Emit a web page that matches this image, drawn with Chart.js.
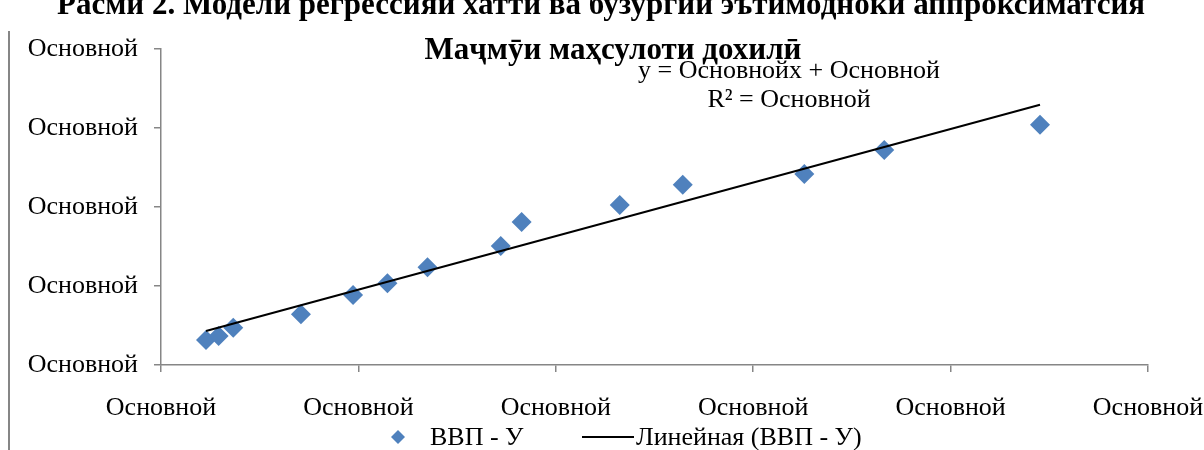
<!DOCTYPE html>
<html><head><meta charset="utf-8">
<script src="https://cdn.jsdelivr.net/npm/chart.js@4.4.1/dist/chart.umd.min.js"></script>
<style>html,body{margin:0;padding:0;background:#fff}#wrap{width:1204px;height:450px;position:relative}canvas{display:block}</style>
</head><body><div id="wrap"><canvas id="c" width="1204" height="450"></canvas></div>
<script>
const captionText = "Расми 2. Модели регрессияи хаттӣ ва бузургии эътимодноки аппроксиматсия";
const chartTitle = "Маҷмӯи маҳсулоти дохилӣ";
const equationLines = ["y = Основнойx + Основной", "R² = Основной"];
const seriesName = "ВВП - У";
const trendName = "Линейная (ВВП - У)";
const xTickLabels = ["Основной", "Основной", "Основной", "Основной", "Основной", "Основной"];
const yTickLabels = ["Основной", "Основной", "Основной", "Основной", "Основной"];
const xValues = [0.228, 0.292, 0.366, 0.709, 0.973, 1.147, 1.350, 1.721, 1.827, 2.324, 2.643, 3.259, 3.664, 4.453];
const yValues = [0.316, 0.367, 0.472, 0.642, 0.886, 1.034, 1.237, 1.506, 1.810, 2.025, 2.282, 2.418, 2.722, 3.042];
const trendX = [0.228, 4.453];
const trendY = [0.430, 3.295];

const FONT = "'Liberation Serif', 'Times New Roman', serif";
const AXIS_GREY = '#868686';
const MARKER_BLUE = '#4F81BD';

const decor = {
  id: 'decor',
  afterDraw(chart) {
    const ctx = chart.ctx;
    ctx.save();
    // frame line on left
    ctx.strokeStyle = AXIS_GREY; ctx.lineWidth = 2;
    ctx.beginPath(); ctx.moveTo(9, 31); ctx.lineTo(9, 450); ctx.stroke();
    ctx.fillStyle = '#000';
    ctx.textAlign = 'center'; ctx.textBaseline = 'alphabetic';
    // caption (cropped at top)
    ctx.font = "bold 31px " + FONT;
    ctx.fillText(captionText, 601, 14);
    // chart title
    ctx.font = "bold 31px " + FONT;
    ctx.fillText(chartTitle, 613, 59);
    // equation
    ctx.font = "26px " + FONT;
    ctx.fillText(equationLines[0], 789, 78);
    ctx.fillText(equationLines[1], 789, 107);
    // legend
    const ly = 437;
    ctx.fillStyle = MARKER_BLUE;
    ctx.beginPath();
    ctx.moveTo(398, ly - 7); ctx.lineTo(405, ly); ctx.lineTo(398, ly + 7); ctx.lineTo(391, ly);
    ctx.closePath(); ctx.fill();
    ctx.fillStyle = '#000';
    ctx.textAlign = 'left'; ctx.textBaseline = 'middle';
    ctx.font = "26px " + FONT;
    ctx.fillText(seriesName, 430, ly + 1);
    ctx.strokeStyle = '#000'; ctx.lineWidth = 2;
    ctx.beginPath(); ctx.moveTo(582, ly); ctx.lineTo(634, ly); ctx.stroke();
    ctx.fillText(trendName, 636, ly + 1);
    ctx.restore();
  }
};

const scatterPoints = xValues.map((x, i) => ({x, y: yValues[i]}));
const trendPoints = trendX.map((x, i) => ({x, y: trendY[i]}));

new Chart(document.getElementById('c'), {
  type: 'scatter',
  data: {
    datasets: [
      {
        label: seriesName,
        data: scatterPoints,
        pointStyle: 'rectRot',
        pointRadius: 10,
        pointHoverRadius: 10,
        backgroundColor: MARKER_BLUE,
        borderColor: MARKER_BLUE,
        borderWidth: 0,
        order: 2
      },
      {
        label: trendName,
        type: 'line',
        data: trendPoints,
        borderColor: '#000',
        borderWidth: 2,
        pointRadius: 0,
        fill: false,
        tension: 0,
        order: 1
      }
    ]
  },
  options: {
    responsive: false,
    animation: false,
    devicePixelRatio: 1,
    layout: { padding: { top: 49, right: 56, left: 0, bottom: 0 } },
    plugins: {
      legend: { display: false },
      title: { display: false },
      tooltip: { enabled: false }
    },
    scales: {
      x: {
        type: 'linear', min: 0, max: 5,
        ticks: {
          stepSize: 1, autoSkip: false, maxRotation: 0, padding: 21,
          color: '#000', font: { family: FONT, size: 26 },
          callback: (v, i) => xTickLabels[i]
        },
        grid: { drawOnChartArea: false, drawTicks: true, tickLength: 7, color: AXIS_GREY, tickColor: AXIS_GREY, lineWidth: 1.5 },
        border: { color: AXIS_GREY, width: 1.5 },
        afterFit: s => { s.height = 85; s.paddingLeft = 0; s.paddingRight = 0; }
      },
      y: {
        type: 'linear', min: 0, max: 4,
        ticks: {
          stepSize: 1, autoSkip: false, padding: 16,
          color: '#000', font: { family: FONT, size: 26 },
          callback: (v, i) => yTickLabels[i]
        },
        grid: { drawOnChartArea: false, drawTicks: true, tickLength: 7, color: AXIS_GREY, tickColor: AXIS_GREY, lineWidth: 1.5 },
        border: { color: AXIS_GREY, width: 1.5 },
        afterFit: s => { s.width = 161; }
      }
    }
  },
  plugins: [decor]
});
</script>
</body></html>
